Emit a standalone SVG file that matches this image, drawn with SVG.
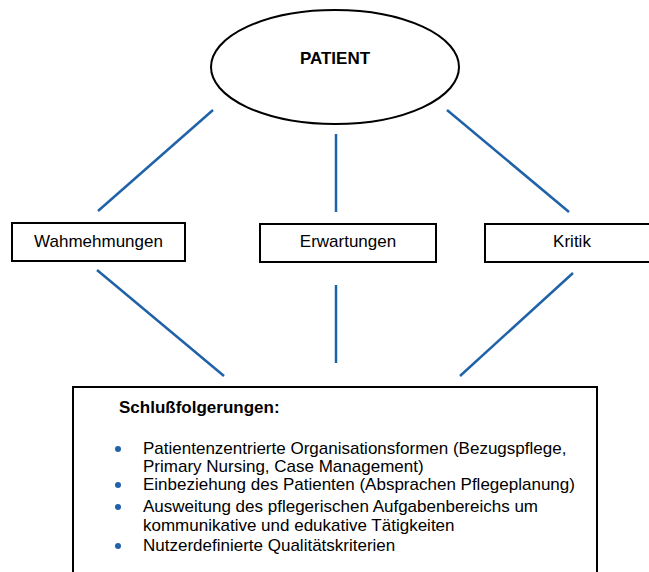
<svg xmlns="http://www.w3.org/2000/svg" width="649" height="572" viewBox="0 0 649 572">
<style>
.box{fill:#fff;stroke:#000;stroke-width:2}
.lbl{font-family:"Liberation Sans",Arial,sans-serif;font-size:17px;fill:#000;text-anchor:middle}
.txt{font-family:"Liberation Sans",Arial,sans-serif;font-size:17px;fill:#000}
.b{font-weight:bold}
.con line{stroke:#1f62a8;stroke-width:2.5}
.dot{fill:#1f62a8}
</style>
<rect width="649" height="572" fill="#fff"/>
<g id="connectors" class="con">
<line x1="213" y1="110" x2="98" y2="211"/>
<line x1="336" y1="134" x2="336" y2="212"/>
<line x1="447" y1="110" x2="569" y2="212"/>
<line x1="97" y1="270" x2="224" y2="376"/>
<line x1="336" y1="285" x2="336" y2="363"/>
<line x1="573" y1="273" x2="460" y2="376"/>
</g>
<g id="patient">
<ellipse class="box" cx="335" cy="67" rx="124" ry="57"/>
<text class="lbl b" x="335" y="64">PATIENT</text>
</g>
<g id="wahrnehmungen">
<rect class="box" x="12" y="223" width="173" height="38"/>
<text class="lbl" x="98.5" y="247">Wahmehmungen</text>
</g>
<g id="erwartungen">
<rect class="box" x="260" y="224" width="176" height="38"/>
<text class="lbl" x="348" y="247">Erwartungen</text>
</g>
<g id="kritik">
<rect class="box" x="485" y="224" width="175" height="38"/>
<text class="lbl" x="572" y="247">Kritik</text>
</g>
<g id="schlussfolgerungen">
<rect class="box" x="73" y="387" width="524" height="200"/>
<text class="txt b" x="119" y="413">Schlußfolgerungen:</text>
<circle class="dot" cx="118" cy="449" r="3"/>
<text class="txt" x="143" y="454">Patientenzentrierte Organisationsformen (Bezugspflege,</text>
<text class="txt" x="143" y="472">Primary Nursing, Case Management)</text>
<circle class="dot" cx="118" cy="485" r="3"/>
<text class="txt" x="143" y="490">Einbeziehung des Patienten (Absprachen Pflegeplanung)</text>
<circle class="dot" cx="118" cy="507" r="3"/>
<text class="txt" x="143" y="512">Ausweitung des pflegerischen Aufgabenbereichs um</text>
<text class="txt" x="143" y="531">kommunikative und edukative Tätigkeiten</text>
<circle class="dot" cx="118" cy="546" r="3"/>
<text class="txt" x="143" y="551">Nutzerdefinierte Qualitätskriterien</text>
</g>
</svg>
